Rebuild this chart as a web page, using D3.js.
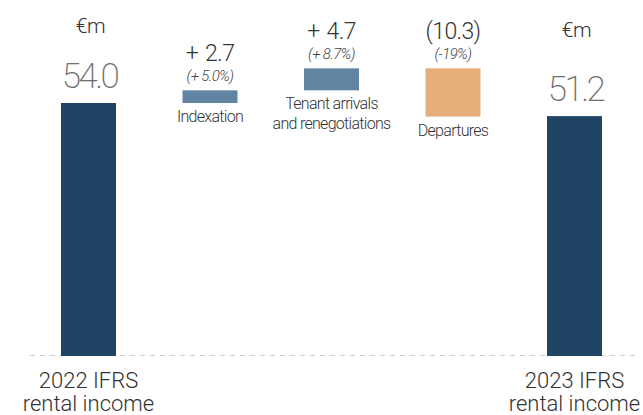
<!DOCTYPE html>
<html>
<head>
<meta charset="utf-8">
<script src="https://cdn.jsdelivr.net/npm/d3@7"></script>
<style>
  html, body { margin: 0; padding: 0; background: #fff; }
  svg { display: block; font-family: Roboto, "Liberation Sans", sans-serif; }
</style>
</head>
<body>
<div id="chart"></div>
<script>
// Rental income bridge, 2022 -> 2023 (€m)
const categories = ["2022 IFRS\nrental income", "Indexation", "Tenant arrivals\nand renegotiations", "Departures", "2023 IFRS\nrental income"];
const kinds = ["total", "step", "step", "step", "total"];
const values = [54.0, 2.7, 4.7, -10.3, 51.2];
const valueLabels = ["54.0", "+ 2.7", "+ 4.7", "(10.3)", "51.2"];
const pctLabels = ["", "(+ 5.0%)", "(+ 8.7%)", "(-19%)", ""];
const unitLabel = "€m";

const W = 643, H = 415;
const colors = { total: "#1f4464", up: "#6184a3", down: "#e6ae7b" };

const svg = d3.select("#chart").append("svg")
  .attr("width", W).attr("height", H);

// Build waterfall segments
let running = 0;
const bars = categories.map((c, i) => {
  let y0, y1;
  if (kinds[i] === "total") { y0 = 0; y1 = values[i]; running = values[i]; }
  else { y0 = running; y1 = running + values[i]; running = y1; }
  return {
    cat: c, kind: kinds[i], value: values[i],
    lo: Math.min(y0, y1), hi: Math.max(y0, y1),
    label: valueLabels[i], pct: pctLabels[i]
  };
});

const x = d3.scalePoint().domain(categories).range([88.5, 574.5]);
const y = d3.scaleLinear().domain([0, 54]).range([356, 103]);
const bw = 55;

// Dashed baseline
svg.append("line")
  .attr("x1", 30).attr("x2", 636)
  .attr("y1", y(0) - 0.5).attr("y2", y(0) - 0.5)
  .attr("stroke", "#d0d0d0").attr("stroke-width", 1)
  .attr("stroke-dasharray", "5,5");

// Bars
svg.selectAll("rect.bar").data(bars).join("rect")
  .attr("class", "bar")
  .attr("x", d => x(d.cat) - bw / 2)
  .attr("width", bw)
  .attr("y", d => y(d.hi))
  .attr("height", d => y(d.lo) - y(d.hi))
  .attr("fill", d => d.kind === "total" ? colors.total : (d.value >= 0 ? colors.up : colors.down));

const totals = bars.filter(d => d.kind === "total");
const steps = bars.filter(d => d.kind === "step");

// Totals: unit, value and label under the axis
svg.selectAll("text.unit").data(totals).join("text")
  .attr("class", "unit")
  .attr("x", d => x(d.cat) + 2)
  .attr("y", (d, i) => i === 0 ? 33 : 37)
  .attr("text-anchor", "middle")
  .attr("font-size", 21).attr("font-weight", 300)
  .attr("letter-spacing", -0.5)
  .attr("fill", "#333")
  .text(unitLabel);

svg.selectAll("text.total").data(totals).join("text")
  .attr("class", "total")
  .attr("x", d => x(d.cat) + 1)
  .attr("y", d => y(d.hi) - 15)
  .attr("text-anchor", "middle")
  .attr("font-size", 35).attr("font-weight", 200)
  .attr("letter-spacing", -2.5)
  .attr("fill", "#6e6e6e")
  .text(d => d.label);

svg.selectAll("text.cat-total").data(totals).join("text")
  .attr("class", "cat-total")
  .attr("text-anchor", "middle")
  .attr("font-size", 22).attr("font-weight", 300)
  .attr("fill", "#333")
  .each(function(d) {
    const lines = d.cat.split("\n");
    d3.select(this).selectAll("tspan").data(lines).join("tspan")
      .attr("x", x(d.cat))
      .attr("y", (l, j) => 388 + j * 23)
      .text(l => l);
  });

// Steps: change, percentage and label under the bar
svg.selectAll("text.step").data(steps).join("text")
  .attr("class", "step")
  .attr("x", d => x(d.cat))
  .attr("y", d => y(d.hi) - 29)
  .attr("text-anchor", "middle")
  .attr("font-size", 23).attr("font-weight", 300)
  .attr("letter-spacing", -0.6)
  .attr("word-spacing", 2)
  .attr("fill", "#333")
  .text(d => d.label);

svg.selectAll("text.pct").data(steps).join("text")
  .attr("class", "pct")
  .attr("x", d => x(d.cat))
  .attr("y", d => y(d.hi) - 9)
  .attr("text-anchor", "middle")
  .attr("font-size", 15).attr("font-weight", 300)
  .attr("font-style", "italic")
  .attr("letter-spacing", -0.6)
  .attr("fill", "#444")
  .text(d => d.pct);

svg.selectAll("text.cat-step").data(steps).join("text")
  .attr("class", "cat-step")
  .attr("text-anchor", "middle")
  .attr("font-size", 16).attr("font-weight", 300)
  .attr("letter-spacing", -0.7)
  .attr("fill", "#333")
  .each(function(d) {
    const lines = d.cat.split("\n");
    d3.select(this).selectAll("tspan").data(lines).join("tspan")
      .attr("x", x(d.cat))
      .attr("y", (l, j) => y(d.lo) + 19 + j * 20)
      .text(l => l);
  });
</script>
</body>
</html>
